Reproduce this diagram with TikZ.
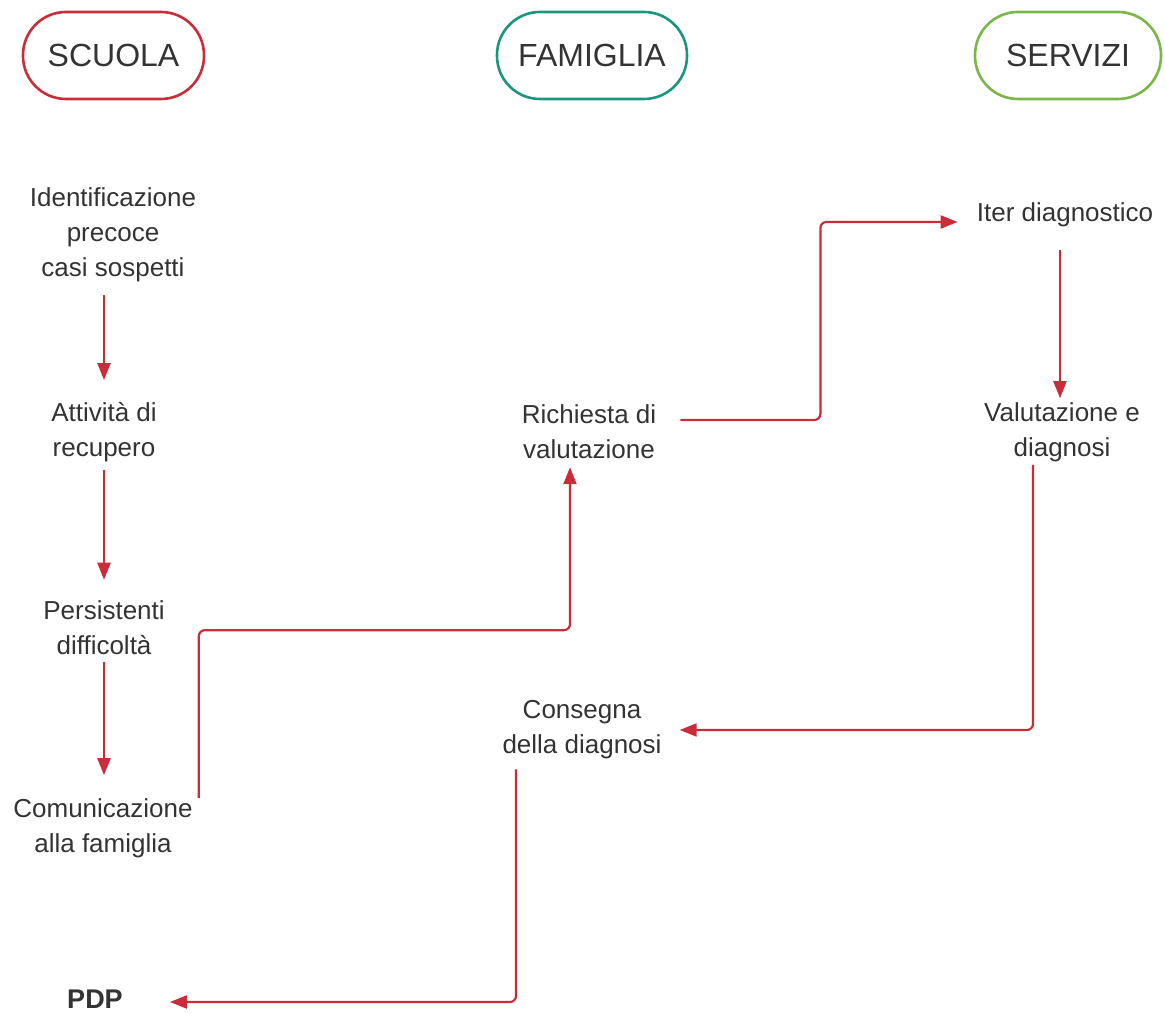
\documentclass[tikz,border=0pt]{standalone}
\usepackage{fontspec}
\setmainfont{Liberation Sans}
\usetikzlibrary{arrows.meta}

\definecolor{flowred}{HTML}{C92D39}
\definecolor{laneteal}{HTML}{19967D}
\definecolor{lanegreen}{HTML}{7AB648}
\definecolor{txtgray}{HTML}{333333}

\tikzset{
  lane/.style={draw=#1, line width=2.6pt, rounded corners=43pt, minimum height=87pt,
    text=txtgray, font=\fontsize{32}{38}\selectfont},
  txt/.style={align=center, inner sep=0pt, text=txtgray, font=\fontsize{26}{35}\selectfont},
  flow/.style={draw=flowred, line width=2.2pt, rounded corners=6pt,
    -{Triangle[length=17pt,width=13pt]}}
}

\begin{document}
\begin{tikzpicture}[x=1pt,y=1pt]
        \useasboundingbox (0,0) rectangle (1165,1014);

        \node[lane=flowred, minimum width=181pt] (scuola) at (113.5,958.5) {SCUOLA};
        \node[lane=laneteal, minimum width=190pt] (famiglia) at (592,958.5) {FAMIGLIA};
        \node[lane=lanegreen, minimum width=186pt] (servizi) at (1068,958.5) {SERVIZI};

        \node[txt] (ident) at (113,779) {Identificazione\\precoce\\casi sospetti};
        \node[txt] (att) at (104,582) {Attività di\\recupero};
        \node[txt] (pers) at (104,386) {Persistenti\\difficoltà};
        \node[txt] (com) at (103,186) {Comunicazione\\alla famiglia};
        \node[txt, font=\fontsize{27}{32}\selectfont\bfseries] (pdp) at (95,15) {PDP};

        \node[txt] (req) at (589,582) {Richiesta di\\valutazione};
        \node[txt] (cons) at (582,284) {Consegna\\della diagnosi};

        \node[txt] (iter) at (1065,799) {Iter diagnostico};
        \node[txt] (val) at (1062,582) {Valutazione e\\diagnosi};

        \draw[flow] ([xshift=-9pt,yshift=-13pt]ident.south) -- ([yshift=22pt]att.north);
        \draw[flow] ([yshift=-8pt]att.south) -- ([yshift=21pt]pers.north);
        \draw[flow] ([yshift=-7pt]pers.south) -- ([yshift=23pt]com.north -| pers.south);

        \draw[flow] ([xshift=6pt]com.north east) -- ++(0,168) -| ([xshift=-19pt,yshift=-8pt]req.south);
        \draw[flow] ([xshift=24pt,yshift=12pt]req.east) -- ++(140,0) |- ([xshift=-19pt,yshift=-7pt]iter.west);
        \draw[flow] ([xshift=-5pt,yshift=-23pt]iter.south) -- ([xshift=-2pt,yshift=4pt]val.north);
        \draw[flow] ([xshift=-29pt,yshift=-3pt]val.south) |- ([xshift=18pt]cons.east);
        \draw[flow] ([xshift=-66pt,yshift=-10pt]cons.south) |- ([xshift=47pt,yshift=-3pt]pdp.east);
      \end{tikzpicture}
\end{document}
